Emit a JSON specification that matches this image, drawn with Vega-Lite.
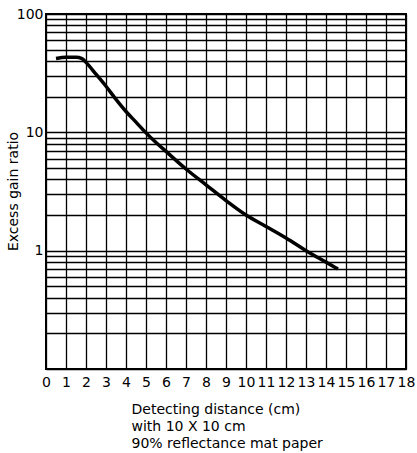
{
  "$schema": "https://vega.github.io/schema/vega-lite/v6.json",
  "width": 360,
  "height": 355,
  "autosize": {"type": "none"},
  "padding": {"left": 46, "top": 14, "right": 11, "bottom": 84},
  "background": "white",
  "config": {
    "font": "DejaVu Sans",
    "view": {"stroke": "black", "strokeWidth": 2},
    "axis": {
      "gridColor": "black",
      "gridOpacity": 1,
      "gridWidth": 1.3,
      "ticks": false,
      "domain": false,
      "labelColor": "black",
      "titleColor": "black",
      "labelFontSize": 14,
      "titleFontSize": 14,
      "titleFontWeight": "normal"
    }
  },
  "data": {
    "values": [
      {"d": 0.5, "g": 42},
      {"d": 1.0, "g": 43},
      {"d": 1.5, "g": 43},
      {"d": 1.8, "g": 42},
      {"d": 2.0, "g": 39},
      {"d": 2.5, "g": 31},
      {"d": 3.0, "g": 24.5},
      {"d": 3.5, "g": 19},
      {"d": 4.0, "g": 15},
      {"d": 4.5, "g": 12.2},
      {"d": 5.0, "g": 9.9},
      {"d": 5.5, "g": 8.2},
      {"d": 6.0, "g": 6.9},
      {"d": 7.0, "g": 4.9},
      {"d": 8.0, "g": 3.6},
      {"d": 9.0, "g": 2.65},
      {"d": 10.0, "g": 2.0},
      {"d": 11.0, "g": 1.6},
      {"d": 12.0, "g": 1.28},
      {"d": 13.0, "g": 1.0},
      {"d": 14.0, "g": 0.8},
      {"d": 14.6, "g": 0.7}
    ]
  },
  "mark": {"type": "line", "color": "black", "strokeWidth": 3.5, "interpolate": "monotone", "clip": true},
  "encoding": {
    "x": {
      "field": "d",
      "type": "quantitative",
      "scale": {"domain": [0, 18], "nice": false, "zero": false},
      "axis": {
        "values": [0,1,2,3,4,5,6,7,8,9,10,11,12,13,14,15,16,17,18],
        "labelPadding": 6,
        "labelFlush": false,
        "labelOverlap": false,
        "title": ["Detecting distance (cm)", "with 10 X 10 cm", "90% reflectance mat paper"],
        "titleAlign": "left",
        "titleAnchor": "start",
        "titleX": 85,
        "titleY": 33,
        "titleBaseline": "top",
        "titleLineHeight": 17
      }
    },
    "y": {
      "field": "g",
      "type": "quantitative",
      "scale": {"type": "log", "domain": [0.1, 100], "nice": false},
      "axis": {
        "values": [0.1,0.2,0.3,0.4,0.5,0.6,0.7,0.8,0.9,1,2,3,4,5,6,7,8,9,10,20,30,40,50,60,70,80,90,100],
        "labelExpr": "datum.value == 1 || datum.value == 10 || datum.value == 100 ? datum.label : ''",
        "labelPadding": 3,
        "labelFlush": false,
        "labelOverlap": false,
        "title": "Excess gain ratio",
        "titleX": -33,
        "titleY": 177,
        "titleBaseline": "middle",
        "titleAlign": "center"
      }
    }
  }
}
